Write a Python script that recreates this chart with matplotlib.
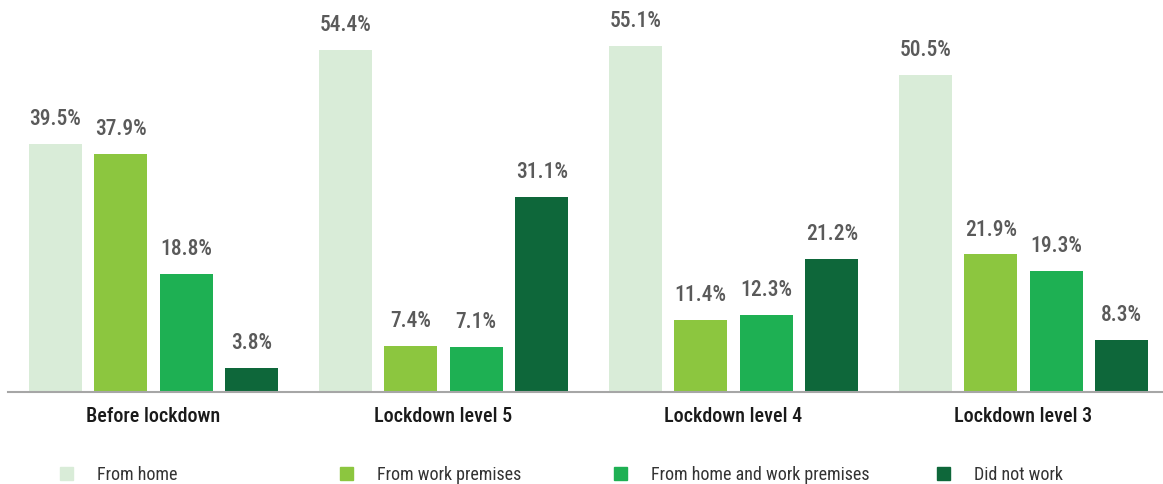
import matplotlib
matplotlib.use("Agg")
import matplotlib.pyplot as plt
from matplotlib import font_manager as fm
import numpy as np

categories = ["Before lockdown", "Lockdown level 5", "Lockdown level 4", "Lockdown level 3"]
series_names = ["From home", "From work premises", "From home and work premises", "Did not work"]
from_home = [39.5, 54.4, 55.1, 50.5]
from_work = [37.9, 7.4, 11.4, 21.9]
home_and_work = [18.8, 7.1, 12.3, 19.3]
did_not_work = [3.8, 31.1, 21.2, 8.3]
colors = ["#d9ecd8", "#8cc63f", "#1eb053", "#0e673a"]

available = {f.name for f in fm.fontManager.ttflist}
family = "DejaVu Sans"
for cand in ["Liberation Sans Narrow", "Roboto Condensed", "Roboto", "Liberation Sans"]:
    if cand in available:
        family = cand
        break
plt.rcParams["font.family"] = family

W, H = 1163, 484
fig = plt.figure(figsize=(W / 100, H / 100), dpi=100)
ax = fig.add_axes([8 / W, (H - 392) / H, 1 - 8 / W, 377 / H])

series = [from_home, from_work, home_and_work, did_not_work]
x = np.arange(len(categories))
step = 65.5 / 290
width = 53 / 290
for i, (vals, col) in enumerate(zip(series, colors)):
    pos = x + (i - 1.5) * step
    ax.bar(pos, vals, width=width, color=col, zorder=2)
    for p, v in zip(pos, vals):
        ax.annotate(f"{v}%", (p, v), xytext=(0, 10), textcoords="offset points",
                    ha="center", va="bottom", fontsize=15.5, fontweight="medium",
                    color="#5a5a5a")

ax.set_ylim(0, 60)
ax.set_xlim((8 - 153.5) / 290, (1163 - 153.5) / 290)
for s in ["top", "right", "left"]:
    ax.spines[s].set_visible(False)
ax.spines["bottom"].set_color("#a6a6a6")
ax.spines["bottom"].set_linewidth(1.5)
ax.set_yticks([])
ax.set_xticks(x)
ax.set_xticklabels(categories, fontsize=14.5, fontweight="medium", color="#1a1a1a")
ax.tick_params(axis="x", length=0, pad=11)

# legend row
leg_x = [60, 340, 614, 937]
for lx, name, col in zip(leg_x, series_names, colors):
    fig.patches.append(plt.Rectangle((lx / W, (H - 480) / H), 13 / W, 13 / H,
                                     transform=fig.transFigure, color=col))
    fig.text((lx + 37) / W, (H - 475) / H, name, fontsize=13, color="#333333",
             va="center", ha="left")

fig.savefig("out.png", dpi=100)
